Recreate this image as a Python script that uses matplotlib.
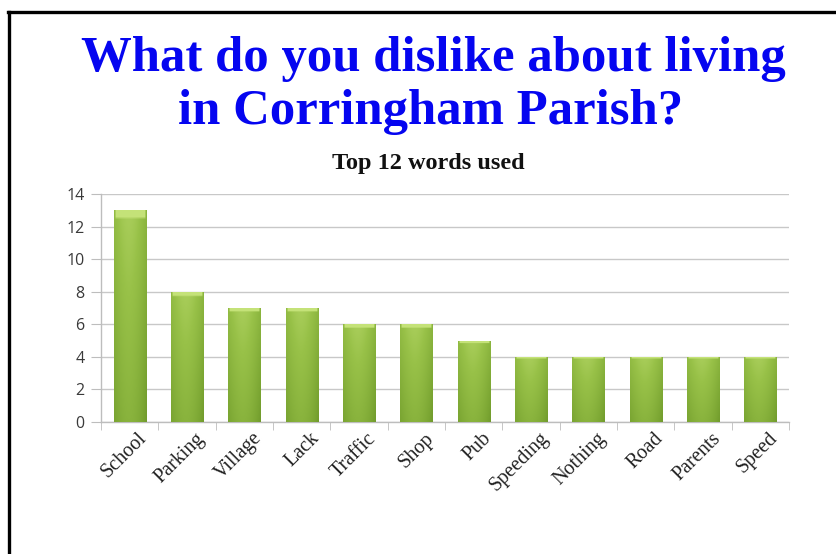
import numpy as np
import matplotlib
matplotlib.use("Agg")
import matplotlib.pyplot as plt
from matplotlib.colors import LinearSegmentedColormap
from matplotlib.lines import Line2D

words = ["School", "Parking", "Village", "Lack", "Traffic", "Shop",
         "Pub", "Speeding", "Nothing", "Road", "Parents", "Speed"]
counts = [13, 8, 7, 7, 6, 6, 5, 4, 4, 4, 4, 4]
y_ticks = [0, 2, 4, 6, 8, 10, 12, 14]

title_lines = ["What do you dislike about living", "in Corringham Parish?"]
subtitle_text = "Top 12 words used"

fig = plt.figure(figsize=(8.36, 5.54), dpi=100)
fig.patch.set_facecolor("white")

# frame lines along top and left edge
fig.add_artist(Line2D([8 / 836, 1.0], [1 - 12 / 554, 1 - 12 / 554],
                      transform=fig.transFigure, color="black", lw=2.4))
fig.add_artist(Line2D([9 / 836, 9 / 836], [0.0, 1 - 12 / 554],
                      transform=fig.transFigure, color="black", lw=2.4))

for line, (cx, base) in zip(title_lines, [(433, 71), (431, 124)]):
    fig.text(cx / 836, 1 - base / 554, line, ha="center", va="baseline",
             family="Liberation Serif", fontweight="bold", fontsize=36.5,
             color="#0505f0")
fig.text(428 / 836, 1 - 169 / 554, subtitle_text, ha="center", va="baseline",
         family="Liberation Serif", fontweight="bold", fontsize=17.5,
         color="#111111")

ax = fig.add_axes([101 / 836, 1 - 422 / 554, 688 / 836, 228 / 554])
x = np.arange(len(words))
bars = ax.bar(x, counts, width=0.56, color="#8db43a", zorder=2,
              edgecolor="none")

# shaded fill for each bar: darker sides and base, bright rim on top
h = np.linspace(0, 1, 64)
side = 1 - 2.0 * np.abs(h - 0.45) ** 1.8
cmap = LinearSegmentedColormap.from_list(
    "bar", ["#587f1e", "#7aa532", "#98c148", "#c9e57d"])
for b in bars:
    bx, bw, bh = b.get_x(), b.get_width(), b.get_height()
    v = np.linspace(0, 1, 80)[:, None]
    shade = 0.12 + 0.38 * side[None, :] + 0.28 * v
    shade[-3:, 3:-3] = 0.97
    im = ax.imshow(shade, cmap=cmap, vmin=0, vmax=1, origin="lower",
                   extent=(bx, bx + bw, 0, bh), aspect="auto",
                   interpolation="bilinear", zorder=3)
    im.set_clip_path(b)

ax.set_xlim(-0.5, len(words) - 0.5)
ax.set_ylim(0, 14)
ax.set_yticks(y_ticks)
ax.set_yticklabels([str(t) for t in y_ticks], family="Open Sans",
                   fontsize=11.5, color="#3a3a3a")
ax.grid(axis="y", color="#c8c8c8", lw=1.0, zorder=0)
ax.set_axisbelow(True)

# category labels, slanted, ending just right of each category centre
ax.set_xticks(x)
ax.set_xticklabels([])
for xi, word in zip(x, words):
    ax.annotate(word, (xi, 0), xycoords=("data", "axes fraction"),
                xytext=(8, -7), textcoords="offset pixels",
                rotation=45, ha="right", va="top", rotation_mode="anchor",
                family="Liberation Serif", fontsize=14.5, color="#222222",
                annotation_clip=False)
ax.set_xticks(np.arange(-0.5, len(words) + 0.5, 1.0), minor=True)
ax.tick_params(axis="x", which="major", length=0)
ax.tick_params(axis="x", which="minor", length=6, color="#bdbdbd",
               direction="out")
ax.tick_params(axis="y", length=7, color="#bdbdbd", pad=5)

for s in ("top", "right"):
    ax.spines[s].set_visible(False)
for s in ("left", "bottom"):
    ax.spines[s].set_color("#bdbdbd")
    ax.spines[s].set_linewidth(1.0)

fig.savefig("out.png", dpi=100, facecolor="white")
